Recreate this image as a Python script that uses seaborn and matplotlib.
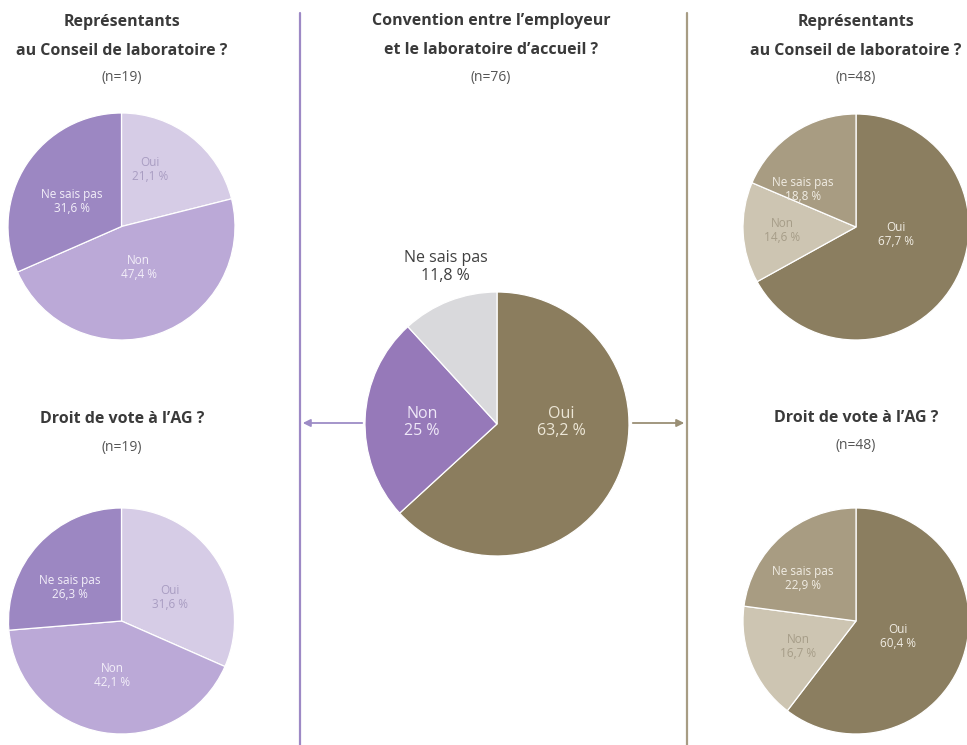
import matplotlib
matplotlib.use("Agg")
import matplotlib.pyplot as plt
import seaborn as sns

# data
categories = ["Oui", "Non", "Ne sais pas"]

left_conseil = [21.1, 47.4, 31.6]      # n=19
left_vote = [31.6, 42.1, 26.3]         # n=19
convention = [63.2, 25.0, 11.8]        # n=76
right_conseil = [67.7, 14.6, 18.8]     # n=48
right_vote = [60.4, 16.7, 22.9]        # n=48

n_left, n_center, n_right = 19, 76, 48

title_conseil = "Représentants\nau Conseil de laboratoire ?"
title_convention = "Convention entre l\u2019employeur\net le laboratoire d\u2019accueil ?"
title_vote = "Droit de vote à l\u2019AG ?"

# colours
purple_pal = ["#d6cce6", "#bba9d7", "#9c87c2"]
purple_txt = ["#a99dc2", "#f3eff9", "#f3eff9"]
olive_pal = ["#8b7e60", "#cdc5b2", "#a89c82"]
olive_txt = ["#f1ede4", "#a69d88", "#f1ede4"]
center_pal = ["#8b7d5e", "#9679b9", "#d9d9dc"]
center_txt = ["#ece6d6", "#efe8f8", "#404040"]

sns.set_theme(style="white")
plt.rcParams["font.family"] = ["Open Sans", "DejaVu Sans"]

W, H = 967, 745
fig = plt.figure(figsize=(W / 100, H / 100), dpi=100)
fig.patch.set_facecolor("white")

# background axes in pixel units for separators, arrows and titles
bg = fig.add_axes([0, 0, 1, 1], zorder=0)
bg.set_xlim(0, W)
bg.set_ylim(H, 0)
bg.axis("off")


def fmt(v):
    return f"{v:g}".replace(".", ",") + " %"


def draw_pie(cx, cy, r, values, colors, txt_colors, label_pos, size):
    ax = fig.add_axes([(cx - r) / W, 1 - (cy + r) / H, 2 * r / W, 2 * r / H], zorder=2)
    ax.pie(values, colors=colors, startangle=90, counterclock=False,
           wedgeprops=dict(edgecolor="white", linewidth=0.9))
    ax.set_aspect("auto")
    ax.set_xlim(-1, 1)
    ax.set_ylim(-1, 1)
    ax.axis("off")
    for cat, v, tc, (px, py) in zip(categories, values, txt_colors, label_pos):
        ax.text(px, py, f"{cat}\n{fmt(v)}", ha="center", va="center",
                color=tc, fontsize=size, linespacing=1.1, clip_on=False)
    return ax


def draw_title(x, y, title, n, step=29):
    lines = title.split("\n")
    for i, line in enumerate(lines):
        bg.text(x, y + i * step, line, ha="center", va="center",
                fontsize=11.5, fontweight="bold", color="#3a3a3a")
    bg.text(x, y + len(lines) * step - 2, f"(n={n})", ha="center", va="center",
            fontsize=10, color="#555555")


# separators
bg.plot([300, 300], [13, H], color="#9d89c5", lw=1.6)
bg.plot([687, 687], [13, H], color="#a79c84", lw=1.6)
bg.annotate("", xy=(300, 423), xytext=(365, 423),
            arrowprops=dict(arrowstyle="-|>", color="#9d8cc6", lw=1.3, mutation_scale=11))
bg.annotate("", xy=(687, 423), xytext=(630, 423),
            arrowprops=dict(arrowstyle="-|>", color="#9a8f75", lw=1.3, mutation_scale=11))

# titles
draw_title(122, 22, title_conseil, n_left)
draw_title(491, 21, title_convention, n_center)
draw_title(122, 419, title_vote, n_left, step=30)
draw_title(856, 22, title_conseil, n_right)
draw_title(856, 418, title_vote, n_right, step=30)

# pies
draw_pie(121.5, 226.5, 113.5, left_conseil, purple_pal, purple_txt,
         [(0.25, 0.50), (0.15, -0.36), (-0.44, 0.22)], 8.5)
draw_pie(121.5, 621, 113, left_vote, purple_pal, purple_txt,
         [(0.43, 0.21), (-0.08, -0.48), (-0.46, 0.30)], 8.5)
draw_pie(497, 424, 132, convention, center_pal, center_txt,
         [(0.49, 0.01), (-0.57, 0.01), (-0.39, 1.19)], 11.5)
draw_pie(856, 227, 113, right_conseil, olive_pal, olive_txt,
         [(0.35, -0.07), (-0.65, -0.03), (-0.47, 0.33)], 8.5)
draw_pie(856, 621, 113, right_vote, olive_pal, olive_txt,
         [(0.37, -0.14), (-0.51, -0.23), (-0.47, 0.38)], 8.5)

fig.savefig("out.png", dpi=100)
